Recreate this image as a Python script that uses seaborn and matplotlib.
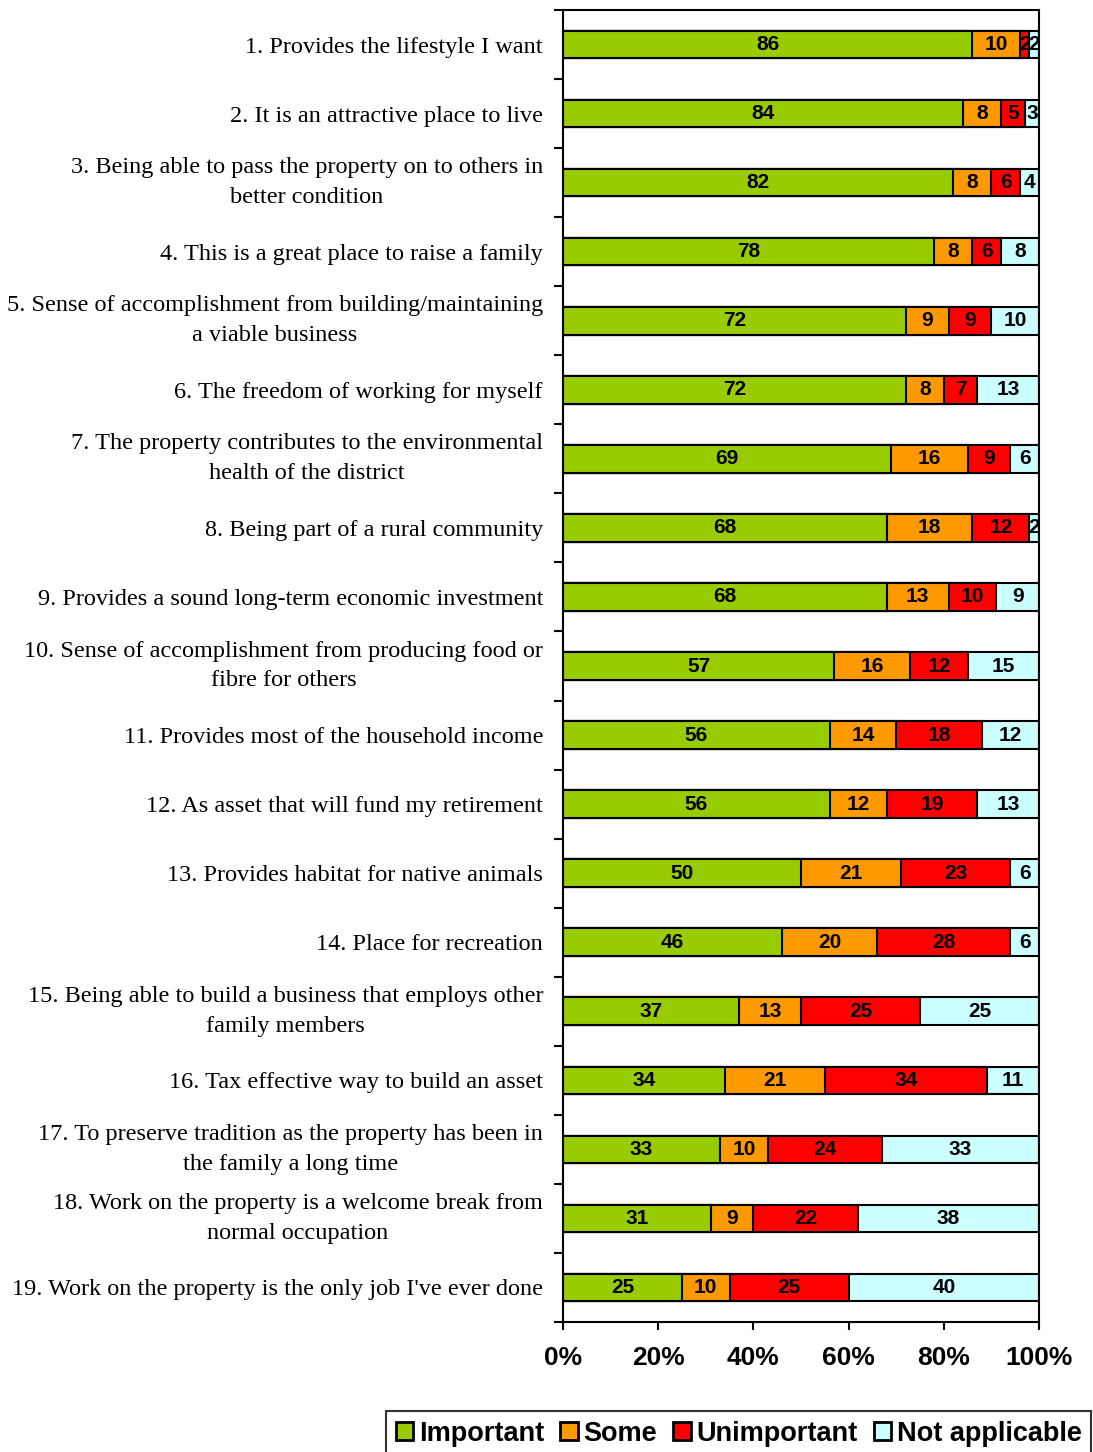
import numpy as np
import pandas as pd
import matplotlib
matplotlib.use("Agg")
import matplotlib.pyplot as plt
from matplotlib.patches import Patch
import seaborn as sns

categories = [
    "1. Provides the lifestyle I want",
    "2. It is an attractive place to live",
    "3. Being able to pass the property on to others in\nbetter condition",
    "4. This is a great place to raise a family",
    "5. Sense of accomplishment from building/maintaining\na viable business",
    "6. The freedom of working for myself",
    "7. The property contributes to the environmental\nhealth of the district",
    "8. Being part of a rural community",
    "9. Provides a sound long-term economic investment",
    "10. Sense of accomplishment from producing food or\nfibre for others",
    "11. Provides most of the household income",
    "12. As asset that will fund my retirement",
    "13. Provides habitat for native animals",
    "14. Place for recreation",
    "15. Being able to build a business that employs other\nfamily members",
    "16. Tax effective way to build an asset",
    "17. To preserve tradition as the property has been in\nthe family a long time",
    "18. Work on the property is a welcome break from\nnormal occupation",
    "19. Work on the property is the only job I've ever done",
]
important = [86, 84, 82, 78, 72, 72, 69, 68, 68, 57, 56, 56, 50, 46, 37, 34, 33, 31, 25]
some = [10, 8, 8, 8, 9, 8, 16, 18, 13, 16, 14, 12, 21, 20, 13, 21, 10, 9, 10]
unimportant = [2, 5, 6, 6, 9, 7, 9, 12, 10, 12, 18, 19, 23, 28, 25, 34, 24, 22, 25]
not_applicable = [2, 3, 4, 8, 10, 13, 6, 2, 9, 15, 12, 13, 6, 6, 25, 11, 33, 38, 40]
series_names = ["Important", "Some", "Unimportant", "Not applicable"]
colors = ["#99CC00", "#FF9900", "#FF0000", "#CCFFFF"]
xtick_values = [0, 20, 40, 60, 80, 100]
xtick_labels = ["0%", "20%", "40%", "60%", "80%", "100%"]

sns.set_style("white")
plt.rcParams["font.family"] = ["Liberation Sans", "DejaVu Sans"]
plt.rcParams["text.color"] = "black"
plt.rcParams["xtick.color"] = "black"
plt.rcParams["ytick.color"] = "black"
plt.rcParams["axes.labelcolor"] = "black"

df = pd.DataFrame({
    "category": categories,
    "Important": important,
    "Some": some,
    "Unimportant": unimportant,
    "Not applicable": not_applicable,
})
vals = df[series_names].to_numpy(dtype=float)
cum = np.cumsum(vals, axis=1)

fig = plt.figure(figsize=(10.93, 14.52), dpi=100)
ax = fig.add_axes([563 / 1093, 1 - 1322 / 1452, (1039 - 563) / 1093, (1322 - 10) / 1452])

# draw cumulative bars from the longest to the shortest so each segment shows
for j in range(3, -1, -1):
    sns.barplot(x=cum[:, j], y=df["category"], orient="h", color=colors[j],
                saturation=1, width=0.4, edgecolor="black", linewidth=1.5,
                order=categories, ax=ax)

# value labels
for i in range(len(categories)):
    left = 0
    for j in range(4):
        v = vals[i, j]
        ax.text(left + v / 2, i, f"{int(v)}", ha="center", va="center",
                fontsize=15, fontweight="bold", color="black")
        left += v

ax.set_xlim(0, 100)
ax.set_ylim(len(categories) - 0.5, -0.5)
ax.set_xlabel("")
ax.set_ylabel("")

ax.set_xticks(xtick_values)
ax.set_xticklabels(xtick_labels, fontsize=19, fontweight="bold", color="black")
ax.tick_params(axis="x", direction="out", length=6, width=1.5, pad=11, bottom=True)

# category labels drawn as text so multi-line ones are centred on their bar
ax.set_yticks(range(len(categories)))
ax.set_yticklabels([""] * len(categories))
ax.set_yticks(np.arange(-0.5, len(categories), 1), minor=True)
ax.tick_params(axis="y", which="major", length=0)
ax.tick_params(axis="y", which="minor", direction="out", length=6.5, width=1.5, left=True)
ytrans = ax.get_yaxis_transform()
for i, lab in enumerate(categories):
    multi = "\n" in lab
    ax.text(-20 / 476, i, lab, transform=ytrans, ha="right",
            va="center" if multi else "center_baseline",
            multialignment="center", linespacing=1.55,
            fontsize=17.5, family="Liberation Serif", color="black")

for s in ax.spines.values():
    s.set_visible(True)
    s.set_color("black")
    s.set_linewidth(1.5)

handles = [Patch(facecolor=c, edgecolor="black", linewidth=2) for c in colors]
leg = fig.legend(handles, series_names, loc="lower right", bbox_to_anchor=(1091 / 1093, -0.003),
                 ncol=4, frameon=True, fancybox=False, prop={"size": 19.5, "weight": "bold"},
                 handlelength=0.65, handleheight=0.65, handletextpad=0.2, columnspacing=0.6,
                 borderpad=0.35, borderaxespad=0)
leg.get_frame().set_edgecolor("black")
leg.get_frame().set_linewidth(1.5)
for t in leg.get_texts():
    t.set_color("black")

fig.savefig("out.png", dpi=100)
